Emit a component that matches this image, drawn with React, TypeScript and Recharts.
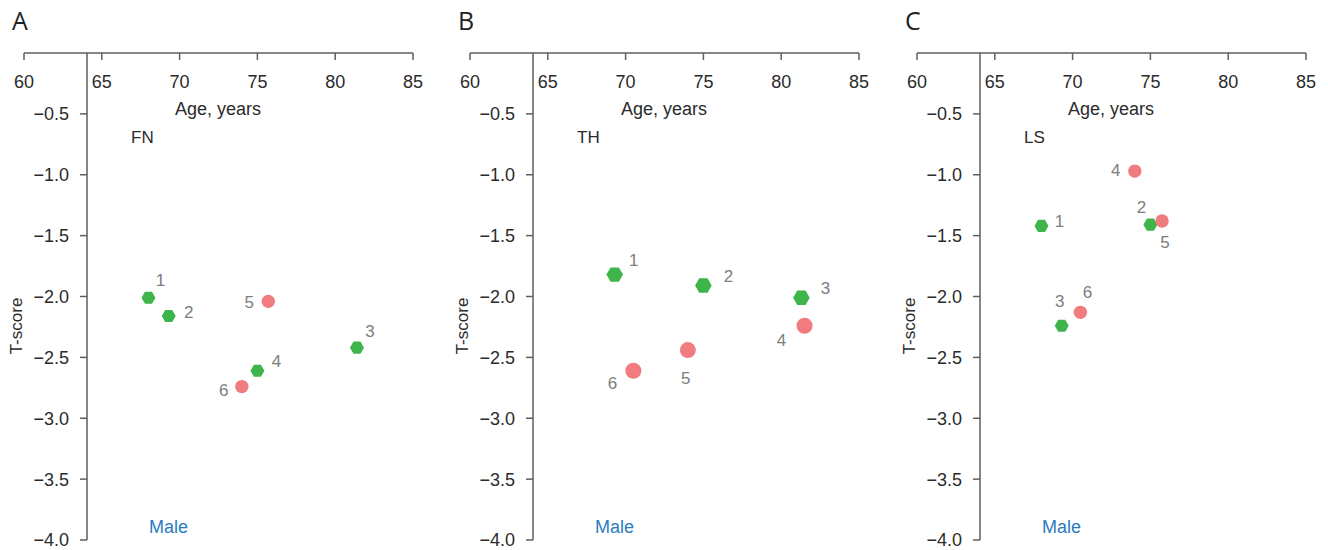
import { ScatterChart, Scatter, XAxis, YAxis, ReferenceLine, ReferenceDot } from 'recharts';

// axes
const AGE_TICKS = [60, 65, 70, 75, 80, 85];
const T_TICKS = [-0.5, -1.0, -1.5, -2.0, -2.5, -3.0, -3.5, -4.0];
const Y_AXIS_AGE = 64.05; // where the vertical axis crosses the age scale

// FN
const fnGreenIds = [1, 2, 3, 4];
const fnGreenAge = [68.0, 69.3, 81.4, 75.0];
const fnGreenT = [-2.01, -2.16, -2.42, -2.61];
const fnRedIds = [5, 6];
const fnRedAge = [75.7, 74.0];
const fnRedT = [-2.04, -2.74];

// TH
const thGreenIds = [1, 2, 3];
const thGreenAge = [69.3, 75.0, 81.3];
const thGreenT = [-1.82, -1.91, -2.01];
const thRedIds = [4, 5, 6];
const thRedAge = [81.5, 74.0, 70.5];
const thRedT = [-2.24, -2.44, -2.61];

// LS
const lsGreenIds = [1, 2, 3];
const lsGreenAge = [68.0, 75.0, 69.3];
const lsGreenT = [-1.42, -1.41, -2.24];
const lsRedIds = [4, 5, 6];
const lsRedAge = [74.0, 75.75, 70.5];
const lsRedT = [-0.97, -1.38, -2.13];

// label offsets (px) from each point, by id
const fnLabelPos: Record<number, [number, number]> = { 1: [12, -18], 2: [20, -4], 3: [13, -17], 4: [19, -10], 5: [-19, 1], 6: [-18, 3] };
const thLabelPos: Record<number, [number, number]> = { 1: [19, -15], 2: [25, -10], 3: [24, -10], 4: [-23, 14], 5: [-2, 28], 6: [-21, 12] };
const lsLabelPos: Record<number, [number, number]> = { 1: [18, -5], 2: [-9, -18], 3: [-2, -25], 4: [-19, -1], 5: [3, 21], 6: [7, -20] };

const GREEN = '#3db54a';
const RED = '#f07c80';
const AXIS = '#5f5f5f';
const TEXT = '#2b2b2b';
const FONT = '"Liberation Sans", Arial, sans-serif';

const toPoints = (ids: number[], ages: number[], ts: number[]) =>
  ids.map((id, i) => ({ id, age: ages[i], t: ts[i] }));

const fmtT = (t: number) => `\u2212${Math.abs(t).toFixed(1)}`;

function Mark({ cx, cy, payload, kind, size, labelPos }: any) {
  if (cx == null || cy == null) return null;
  const [dx, dy] = labelPos[payload.id] || [12, -12];
  let shape;
  if (kind === 'hex') {
    const pts = [0, 1, 2, 3, 4, 5]
      .map((i) => {
        const a = (Math.PI / 3) * i;
        return `${cx + size * Math.cos(a)},${cy + size * Math.sin(a)}`;
      })
      .join(' ');
    shape = <polygon points={pts} fill={GREEN} />;
  } else {
    shape = <circle cx={cx} cy={cy} r={size} fill={RED} />;
  }
  return (
    <g>
      {shape}
      <text x={cx + dx} y={cy + dy} dy="0.36em" textAnchor="middle" fill="#7d7d7d" fontSize={17} fontFamily={FONT}>
        {payload.id}
      </text>
    </g>
  );
}

interface PanelProps {
  letter: string;
  site: string;
  left: number;
  green: { id: number; age: number; t: number }[];
  red: { id: number; age: number; t: number }[];
  labelPos: Record<number, [number, number]>;
  hexR: number;
  dotR: number;
}

function Panel({ letter, site, left, green, red, labelPos, hexR, dotR }: PanelProps) {
  const W = 447;
  const H = 550;
  return (
    <div style={{ position: 'absolute', left, top: 0, width: W, height: H }}>
      <ScatterChart width={W} height={H} margin={{ top: 53, right: 34, bottom: 10, left: 24 }}>
        <XAxis
          type="number"
          dataKey="age"
          orientation="top"
          mirror
          domain={[60, 85]}
          ticks={AGE_TICKS}
          interval={0}
          tickSize={7}
          tickMargin={15}
          axisLine={{ stroke: AXIS, strokeWidth: 1.5 }}
          tickLine={{ stroke: AXIS, strokeWidth: 1.5 }}
          tick={{ fill: TEXT, fontSize: 18, fontFamily: FONT }}
        />
        <YAxis type="number" dataKey="t" domain={[-4, 0]} hide />
        <ReferenceLine x={Y_AXIS_AGE} stroke={AXIS} strokeWidth={1.5} />
        {T_TICKS.map((t) => (
          <ReferenceDot
            key={t}
            x={Y_AXIS_AGE}
            y={t}
            r={0}
            ifOverflow="visible"
            shape={(p: any) => (
              <g>
                <line x1={p.cx - 7} x2={p.cx} y1={p.cy} y2={p.cy} stroke={AXIS} strokeWidth={1.5} />
                <text x={p.cx - 18} y={p.cy} dy="0.36em" textAnchor="end" fill={TEXT} fontSize={18} fontFamily={FONT}>
                  {fmtT(t)}
                </text>
              </g>
            )}
          />
        ))}
        <Scatter
          data={green}
          isAnimationActive={false}
          shape={(p: any) => <Mark {...p} kind="hex" size={hexR} labelPos={labelPos} />}
        />
        <Scatter
          data={red}
          isAnimationActive={false}
          shape={(p: any) => <Mark {...p} kind="dot" size={dotR} labelPos={labelPos} />}
        />
      </ScatterChart>
      <svg width={W} height={H} style={{ position: 'absolute', left: 0, top: 0, pointerEvents: 'none' }}>
        <text x={12} y={30} fontSize={25} fill="#222" fontFamily='"Open Sans", Arial, sans-serif'>
          {letter}
        </text>
        <text x={218} y={115} textAnchor="middle" fontSize={18} fill={TEXT} fontFamily={FONT}>
          Age, years
        </text>
        <text x={131} y={143} fontSize={17} fill={TEXT} fontFamily={FONT}>
          {site}
        </text>
        <text x={149} y={533} fontSize={18} fill="#2a7cc0" fontFamily={FONT}>
          Male
        </text>
        <text
          x={15.5}
          y={326}
          dy="0.36em"
          textAnchor="middle"
          fontSize={17}
          fill={TEXT}
          fontFamily={FONT}
          transform="rotate(-90 15.5 326)"
        >
          T-score
        </text>
      </svg>
    </div>
  );
}

export default function App() {
  return (
    <div style={{ position: 'absolute', left: 0, top: 0, width: 1328, height: 550, background: '#fff' }}>
      <Panel
        letter="A"
        site="FN"
        left={0}
        green={toPoints(fnGreenIds, fnGreenAge, fnGreenT)}
        red={toPoints(fnRedIds, fnRedAge, fnRedT)}
        labelPos={fnLabelPos}
        hexR={7}
        dotR={6.7}
      />
      <Panel
        letter="B"
        site="TH"
        left={446}
        green={toPoints(thGreenIds, thGreenAge, thGreenT)}
        red={toPoints(thRedIds, thRedAge, thRedT)}
        labelPos={thLabelPos}
        hexR={8.3}
        dotR={8}
      />
      <Panel
        letter="C"
        site="LS"
        left={893}
        green={toPoints(lsGreenIds, lsGreenAge, lsGreenT)}
        red={toPoints(lsRedIds, lsRedAge, lsRedT)}
        labelPos={lsLabelPos}
        hexR={7}
        dotR={6.7}
      />
    </div>
  );
}
